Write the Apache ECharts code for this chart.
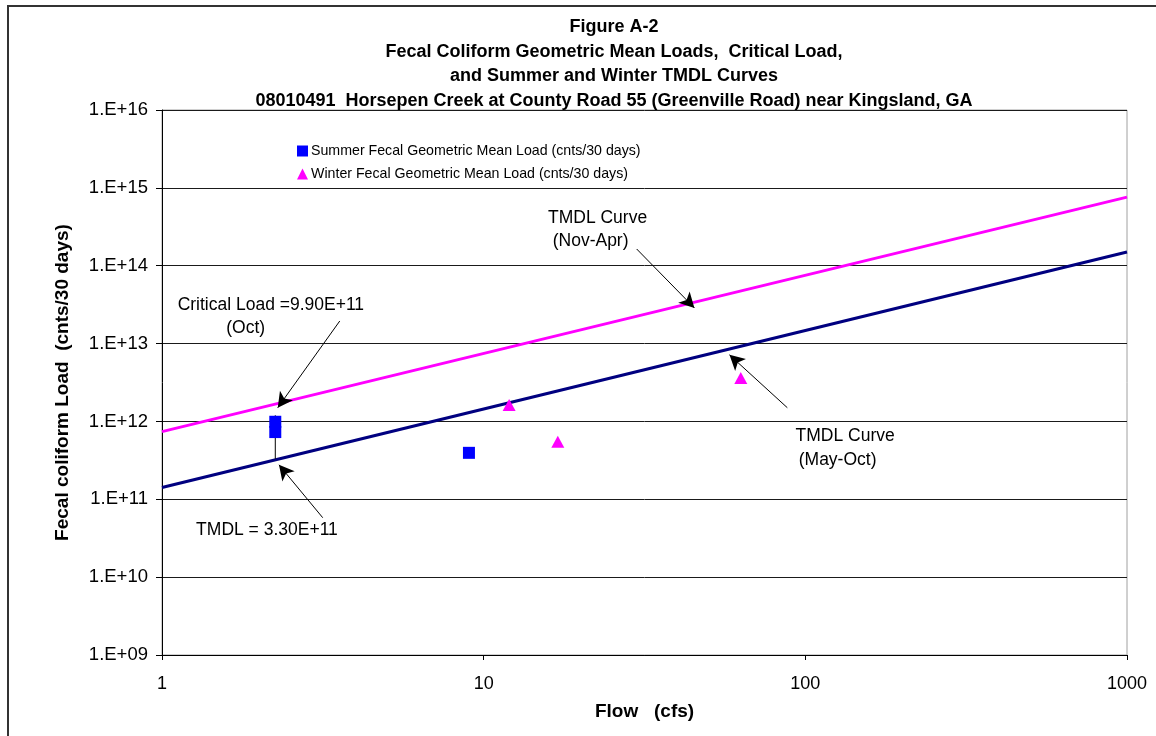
<!DOCTYPE html>
<html>
<head>
<meta charset="utf-8">
<script src="https://cdn.jsdelivr.net/npm/echarts@6/dist/echarts.min.js"></script>
<style>
html,body{margin:0;padding:0;background:#fff;}
#chart{width:1156px;height:736px;}
</style>
</head>
<body>
<div id="chart"></div>
<script>
// ---- data ----
const titleLines = [
  'Figure A-2',
  'Fecal Coliform Geometric Mean Loads,  Critical Load,',
  'and Summer and Winter TMDL Curves',
  '08010491  Horsepen Creek at County Road 55 (Greenville Road) near Kingsland, GA'
];
const xTickValues = [1, 10, 100, 1000];
const xTickLabels = ['1', '10', '100', '1000'];
const yTickValues = [1e9, 1e10, 1e11, 1e12, 1e13, 1e14, 1e15, 1e16];
const yTickLabels = ['1.E+09', '1.E+10', '1.E+11', '1.E+12', '1.E+13', '1.E+14', '1.E+15', '1.E+16'];

const summerName = 'Summer Fecal Geometric Mean Load (cnts/30 days)';
const winterName = 'Winter Fecal Geometric Mean Load (cnts/30 days)';
const summerFlow = [2.25, 2.25, 9.0];
const summerLoad = [9.9e11, 7.3e11, 3.95e11];
const winterFlow = [12, 17, 63];
const winterLoad = [1.63e12, 5.5e11, 3.6e12];

const tmdlFlow = [1, 1000];
const tmdlWinterLoad = [7.4e11, 7.6e14];
const tmdlSummerLoad = [1.42e11, 1.5e14];

const critFlow = [2.25, 2.25];
const critLoad = [1.2e12, 3.3e11];

// annotation text lines, each anchored at (flow, load) of its centre
const annoTexts = [
  {text: 'Critical Load =9.90E+11', flow: 2.18, load: 3.14e13},
  {text: '(Oct)', flow: 1.82, load: 1.59e13},
  {text: 'TMDL = 3.30E+11', flow: 2.12, load: 4.06e10},
  {text: 'TMDL Curve', flow: 22.6, load: 4.11e14},
  {text: '(Nov-Apr)', flow: 21.5, load: 2.08e14},
  {text: 'TMDL Curve', flow: 133, load: 6.53e11},
  {text: '(May-Oct)', flow: 126, load: 3.21e11}
];
const arrows = [
  [[3.57, 1.95e13], [2.29, 1.5e12]],
  [[3.16, 5.8e10], [2.31, 2.77e11]],
  [[29.9, 1.64e14], [45.2, 2.87e13]],
  [[87.9, 1.5e12], [58.1, 7.16e12]]
];

const zip = (a, b) => a.map((v, i) => [v, b[i]]);
const FONT = '"Liberation Sans", Arial, sans-serif';

const chart = echarts.init(document.getElementById('chart'));
const option = {
  animation: false,
  backgroundColor: '#fff',
  textStyle: {fontFamily: FONT, color: '#000'},
  title: {
    text: titleLines.join('\n'),
    left: 609,
    top: 10,
    textAlign: 'center',
    textStyle: {fontFamily: FONT, fontWeight: 'bold', fontSize: 18, lineHeight: 24.5, color: '#000'}
  },
  legend: {
    orient: 'vertical',
    left: 297,
    top: 144,
    itemWidth: 11,
    itemHeight: 11,
    itemGap: 9,
    padding: 0,
    data: [{name: summerName, icon: 'rect'}, {name: winterName, icon: 'triangle'}],
    textStyle: {fontFamily: FONT, fontSize: 14.2, color: '#000', padding: [0, 0, 0, -2]}
  },
  grid: {left: 162, right: 29, top: 110, bottom: 81, show: true, borderColor: '#a0a0a0', borderWidth: 1},
  xAxis: {
    type: 'log', logBase: 10, min: 1, max: 1000,
    name: 'Flow   (cfs)', nameLocation: 'middle', nameGap: 47,
    nameTextStyle: {fontFamily: FONT, fontWeight: 'bold', fontSize: 19, color: '#000'},
    axisLine: {show: true, lineStyle: {color: '#000', width: 1}},
    axisTick: {show: true, length: 5, lineStyle: {color: '#000'}},
    minorTick: {show: false},
    splitLine: {show: false},
    axisLabel: {
      fontFamily: FONT, fontSize: 18, color: '#000', margin: 20,
      formatter: v => { const i = xTickValues.findIndex(t => Math.abs(Math.log10(t) - Math.log10(v)) < 1e-6); return i >= 0 ? xTickLabels[i] : ''; }
    }
  },
  yAxis: {
    type: 'log', logBase: 10, min: 1e9, max: 1e16,
    name: 'Fecal coliform Load  (cnts/30 days)', nameLocation: 'middle', nameGap: 90, nameRotate: 90,
    nameTextStyle: {fontFamily: FONT, fontWeight: 'bold', fontSize: 19, color: '#000'},
    axisLine: {show: true, lineStyle: {color: '#000', width: 1}},
    axisTick: {show: true, length: 6, lineStyle: {color: '#000'}},
    minorTick: {show: false},
    splitLine: {show: true, lineStyle: {color: '#1a1a1a', width: 1}},
    axisLabel: {
      fontFamily: FONT, fontSize: 18.5, color: '#000', margin: 14,
      formatter: v => { const i = yTickValues.findIndex(t => Math.abs(Math.log10(t) - Math.log10(v)) < 1e-6); return i >= 0 ? yTickLabels[i] : ''; }
    }
  },
  series: [
    {
      name: 'TMDL Winter', type: 'line', data: zip(tmdlFlow, tmdlWinterLoad),
      symbol: 'none', lineStyle: {color: '#ff00ff', width: 3}, z: 2, silent: true
    },
    {
      name: 'TMDL Summer', type: 'line', data: zip(tmdlFlow, tmdlSummerLoad),
      symbol: 'none', lineStyle: {color: '#000080', width: 3}, z: 2, silent: true
    },
    {
      name: 'Critical', type: 'line', data: zip(critFlow, critLoad),
      symbol: 'none', lineStyle: {color: '#000', width: 1}, z: 3, silent: true,
      markLine: {
        silent: true, symbol: ['none', 'arrow'], symbolSize: [12, 15],
        lineStyle: {color: '#000', width: 1, type: 'solid'}, label: {show: false},
        data: arrows.map(a => [{coord: a[0]}, {coord: a[1]}])
      }
    },
    {
      name: summerName, type: 'scatter', data: zip(summerFlow, summerLoad),
      symbol: 'rect', symbolSize: 12, itemStyle: {color: '#0000ff', opacity: 1}, z: 5
    },
    {
      name: winterName, type: 'scatter', data: zip(winterFlow, winterLoad),
      symbol: 'triangle', symbolSize: [13, 12], itemStyle: {color: '#ff00ff', opacity: 1}, z: 5
    }
  ]
};
chart.setOption(option);

// frame and annotation texts (positioned via the chart's own scales)
const graphics = [{
  type: 'rect', shape: {x: 8, y: 6, width: 1170, height: 760}, silent: true,
  style: {fill: 'none', stroke: '#333', lineWidth: 2}, z: 100
}];
annoTexts.forEach(a => {
  const p = chart.convertToPixel({gridIndex: 0}, [a.flow, a.load]);
  graphics.push({
    type: 'text', x: p[0], y: p[1], silent: true, z: 100,
    style: {text: a.text, fontFamily: FONT, fontSize: 17.5,
            fill: '#000', align: 'center', verticalAlign: 'middle'}
  });
});
chart.setOption({graphic: graphics});
</script>
</body>
</html>
